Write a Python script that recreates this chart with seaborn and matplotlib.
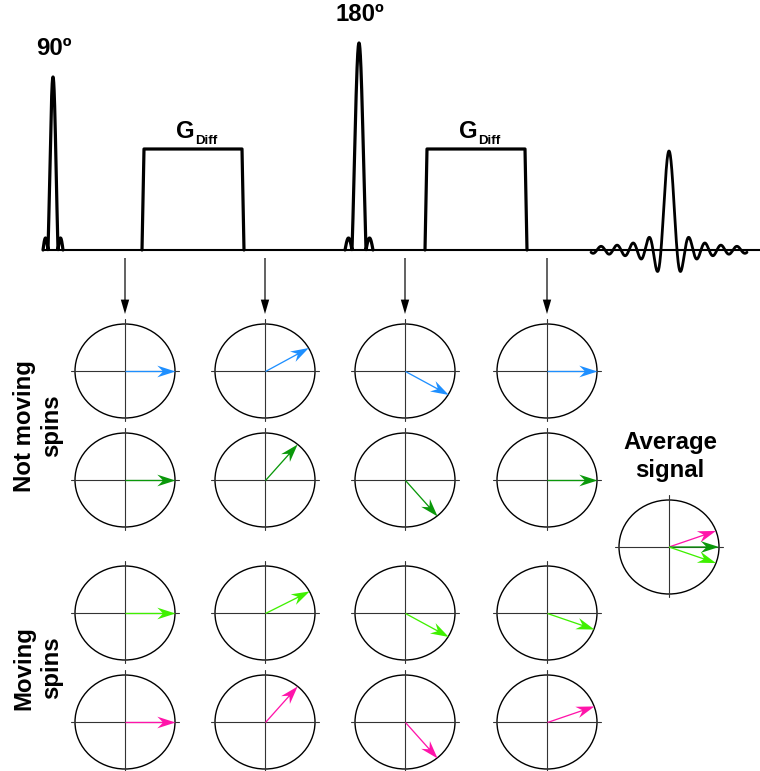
import numpy as np
import matplotlib.pyplot as plt
import seaborn as sns
from matplotlib.patches import Ellipse

sns.set_theme(style="white")
plt.rcParams['font.family'] = ['Liberation Sans', 'DejaVu Sans']
plt.rcParams['text.color'] = 'black'

# pulse sequence (time axis in px, amplitude in px above baseline)
rf_labels = ["90º", "180º"]
rf_times = [53, 359]
rf_heights = [173, 207]
rf_widths = [5, 7]
grad_label = "G"
grad_sub = "Diff"
grad_starts = [142, 425]
grad_ends = [244, 527]
grad_height = 101
echo_time = 669
echo_height = 99

# phase of each spin (degrees) at the four sampling times
sample_times = [125, 265, 405, 547]
static_blue = [0, 30, -30, 0]
static_green = [0, 50, -50, 0]
moving_lime = [0, 28, -30, -20]
moving_magenta = [0, 50, -50, 20]
avg_angles = [20, 0, -20]

blue = "#1e8fff"
dgreen = "#0a980a"
lime = "#3ff000"
magenta = "#ff14aa"
avg_colors = [magenta, dgreen, lime]

row_y = [371, 480, 613, 722]
rows = [(static_blue, blue), (static_green, dgreen),
        (moving_lime, lime), (moving_magenta, magenta)]

y0 = 250
fig = plt.figure(figsize=(7.6, 7.71), dpi=100)
ax = fig.add_axes([0, 0, 1, 1])

# baseline
ax.plot([43, 760], [y0, y0], color="black", lw=1.5)

# RF pulses
for c, h, w, lab in zip(rf_times, rf_heights, rf_widths, rf_labels):
    t = np.linspace(-2 * w, 2 * w, 300)
    amp = np.where(np.abs(t) <= w, h * np.sinc(t / w), 12 * np.abs(np.sin(np.pi * t / w)))
    sns.lineplot(x=c + t, y=y0 - amp, sort=False, estimator=None, color="black", lw=2.3, ax=ax)
    ax.text(c + 1, y0 - h - 22, lab, ha="center", va="baseline", fontsize=17.3, fontweight="bold")

# diffusion gradients
for s, e in zip(grad_starts, grad_ends):
    gx = [s, s + 2, e - 2, e]
    gy = [y0, y0 - grad_height, y0 - grad_height, y0]
    sns.lineplot(x=gx, y=gy, sort=False, estimator=None, color="black", lw=2.3, ax=ax)
    mid = (s + e) / 2
    ax.text(mid - 17, 138, grad_label, ha="left", va="baseline", fontsize=17.3, fontweight="bold")
    ax.text(mid + 2.5, 144, grad_sub, ha="left", va="baseline", fontsize=9.5, fontweight="bold")

# echo
t = np.linspace(-78, 78, 1200)
sns.lineplot(x=echo_time + t, y=y0 - echo_height * np.sinc(t / 8), sort=False,
             estimator=None, color="black", lw=2.0, ax=ax)

# sampling arrows
ax.quiver(sample_times, [258] * 4, [0] * 4, [56] * 4, angles="xy", scale_units="xy",
          scale=1, units="xy", width=1.2, headwidth=7, headlength=12,
          headaxislength=12, color="black", zorder=3)


def phase_circle(cx, cy, angles, colors):
    ax.add_patch(Ellipse((cx, cy), 100, 94, fill=False, lw=1.0, ec="black"))
    ax.plot([cx - 54, cx + 54], [cy, cy], color="#333333", lw=0.8)
    ax.plot([cx, cx], [cy - 52, cy + 50], color="#333333", lw=0.8)
    a = np.deg2rad(angles)
    ax.quiver([cx] * len(a), [cy] * len(a), 50 * np.cos(a), -47 * np.sin(a),
              color=colors, angles="xy", scale_units="xy", scale=1, units="xy",
              width=1.3, headwidth=9, headlength=14, headaxislength=10, zorder=4)


for (angles, col), cy in zip(rows, row_y):
    for cx, ang in zip(sample_times, angles):
        phase_circle(cx, cy, [ang], [col])

phase_circle(669, 547, avg_angles, avg_colors)

ax.text(670, 449, "Average", ha="center", va="baseline", fontsize=17.3, fontweight="bold")
ax.text(670, 477, "signal", ha="center", va="baseline", fontsize=17.3, fontweight="bold")
ax.text(38, 426, "Not moving\nspins", rotation=90, ha="center", va="center",
        multialignment="center", fontsize=17.3, fontweight="bold", linespacing=1.25)
ax.text(38, 668, "Moving\nspins", rotation=90, ha="center", va="center",
        multialignment="center", fontsize=17.3, fontweight="bold", linespacing=1.25)

ax.set_xlim(0, 760)
ax.set_ylim(771, 0)
ax.axis("off")
fig.savefig("out.png", dpi=100)
